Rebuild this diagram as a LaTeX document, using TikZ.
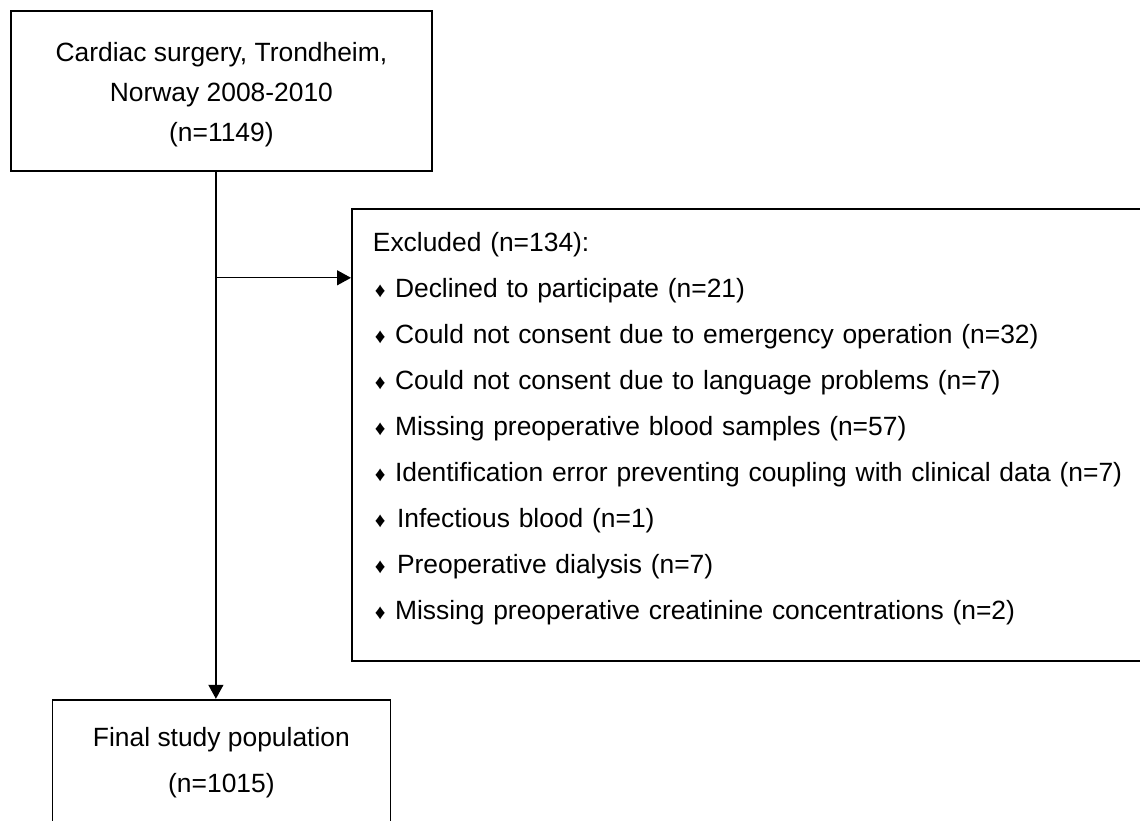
\documentclass[tikz,border=0pt]{standalone}
\usepackage{fontspec}
\setmainfont{Liberation Sans}
\usepackage{tikz}
\usetikzlibrary{arrows.meta, positioning}

\newcommand{\dia}{\hspace*{1pt}{\fontsize{10.5}{10.5}\selectfont\char"2666}\hspace{4.7pt}}

\begin{document}
\begin{tikzpicture}
  \tikzstyle{line}=[draw, line width=0.65pt]
  \tikzstyle{arrow}=[draw, line width=0.65pt, -{Triangle[length=7pt,width=7.5pt]}]
  \tikzstyle{startbox} = [rectangle, minimum width=210.5pt, minimum height=80pt, align=center, inner sep=0pt, draw=black, line width=0.9pt, font=\fontsize{13.2}{20}\selectfont]
  \tikzstyle{exclbox} = [rectangle, minimum width=410pt, minimum height=226pt, text width=389pt, align=left, inner xsep=10.5pt, inner ysep=0pt, draw=black, line width=0.9pt, font=\fontsize{13.2}{23}\selectfont]
  \tikzstyle{finalbox} = [rectangle, minimum width=169pt, minimum height=90pt, align=center, inner sep=0pt, draw=black, line width=0.9pt, font=\fontsize{13.2}{23}\selectfont]

  \useasboundingbox (0,0) rectangle (570pt,-410pt);
  \clip (0,0) rectangle (570pt,-410pt);

  \node (cardiac) [startbox, anchor=north west] at (5pt,-5pt) {\rule{0pt}{13.5pt}Cardiac surgery, Trondheim,\\Norway 2008-2010\\(n=1149)};
  \node (excluded) [exclbox, below right=18pt and 170.5pt of cardiac.south west] {Excluded (n=134):\\
    \dia Declined to participate (n=21)\\
    \dia Could not consent due to emergency operation (n=32)\\
    \dia Could not consent due to language problems (n=7)\\
    \dia Missing preoperative blood samples (n=57)\\
    \dia Identification error preventing coupling with clinical data (n=7)\\
    \dia\hspace{1pt}Infectious blood (n=1)\\
    \dia\hspace{1pt}Preoperative dialysis (n=7)\\
    \dia Missing preoperative creatinine concentrations (n=2)\rule[-8.5pt]{0pt}{0pt}};
  \node (final) [finalbox, below=263.5pt of cardiac] {Final study population\\(n=1015)\rule[-30pt]{0pt}{0pt}};

  \coordinate (branch) at ([xshift=-2.75pt,yshift=-53pt]cardiac.south);

  \draw [line] ([xshift=-2.75pt]cardiac.south) -- (branch);
  \draw [arrow] (branch) -- (branch |- final.north);
  \draw [arrow] (branch) -- (branch -| excluded.west);
\end{tikzpicture}
\end{document}
